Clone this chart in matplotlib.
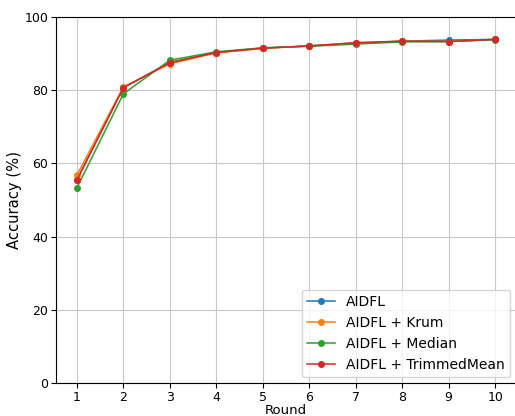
import numpy as np
import matplotlib.pyplot as plt

rounds = [1, 2, 3, 4, 5, 6, 7, 8, 9, 10]
aidfl = [55.6, 80.7, 87.6, 90.3, 91.5, 92.1, 92.8, 93.4, 93.7, 93.9]
krum = [56.8, 80.9, 87.2, 90.2, 91.4, 92.1, 92.9, 93.4, 93.3, 93.9]
median = [53.3, 79.0, 88.2, 90.5, 91.6, 92.0, 92.6, 93.2, 93.3, 93.8]
trimmed = [55.4, 80.7, 87.5, 90.3, 91.5, 92.1, 93.0, 93.4, 93.3, 93.9]

fig = plt.figure(figsize=(5.15, 4.16), dpi=100)
ax = fig.add_axes([0.1087, 0.0793, 0.8933, 0.8798])

ax.plot(rounds, aidfl, marker='o', markersize=4, linewidth=1.1, label='AIDFL')
ax.plot(rounds, krum, marker='o', markersize=4, linewidth=1.1, label='AIDFL + Krum')
ax.plot(rounds, median, marker='o', markersize=4, linewidth=1.1, label='AIDFL + Median')
ax.plot(rounds, trimmed, marker='o', markersize=4, linewidth=1.1, label='AIDFL + TrimmedMean')

ax.set_ylim(0, 100)
ax.set_xticks(rounds)
ax.tick_params(labelsize=9, length=3.5, pad=2)
ax.set_xlabel('Round', fontsize=9.5, labelpad=0)
ax.set_ylabel('Accuracy (%)', fontsize=10.6, labelpad=2)
ax.grid(True, color='#c8c8c8', linewidth=0.8)
ax.legend(loc='lower right', fontsize=10, borderaxespad=0.4)

fig.savefig('out.png', dpi=100)
